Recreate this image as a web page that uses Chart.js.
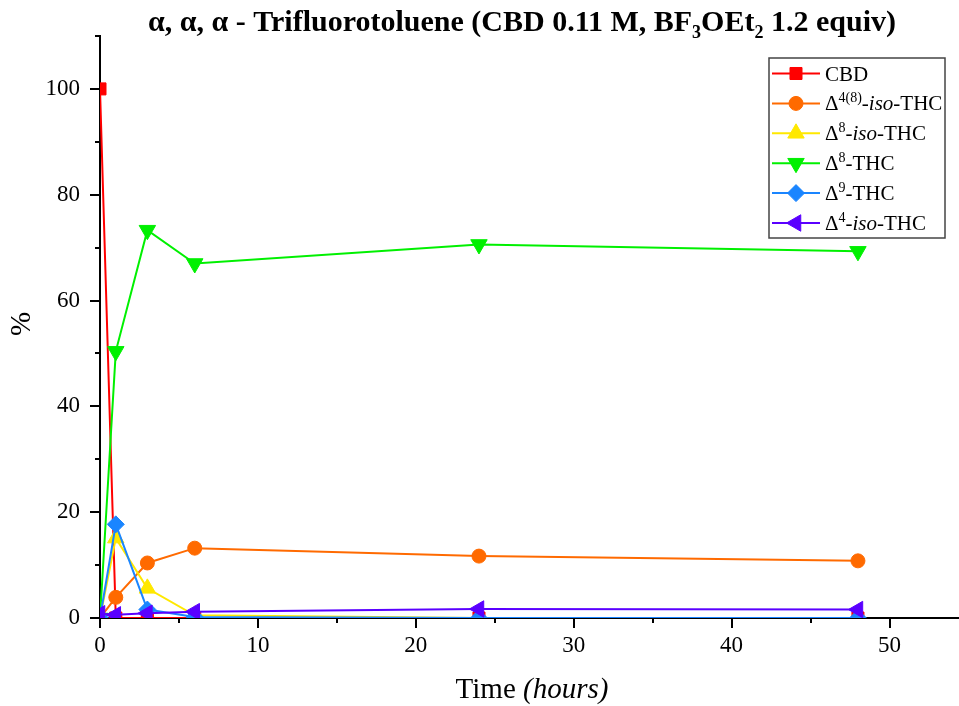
<!DOCTYPE html>
<html><head><meta charset="utf-8">
<script src="https://cdn.jsdelivr.net/npm/chart.js@4"></script>
<style>html,body{margin:0;padding:0;background:#fff;}#wrap{width:959px;height:706px;position:relative;}</style>
</head><body><div id="wrap"><canvas id="c" width="959" height="706"></canvas></div>
<script>
// ---- data ----
const times = [0, 1, 3, 6, 24, 48];
const cbd   = [100, 0, 0, 0, 0, 0];
const iso48 = [0, 3.9, 10.4, 13.2, 11.7, 10.8];
const iso8  = [0, 15.1, 5.6, 0.5, 0, 0];
const thc8  = [0, 50.4, 73.3, 67.0, 70.6, 69.3];
const thc9  = [0, 17.7, 1.6, 0.2, 0, 0];
const iso4  = [0.8, 0.6, 0.9, 1.2, 1.7, 1.6];
const xTickValues = [0, 10, 20, 30, 40, 50];
const yTickValues = [0, 20, 40, 60, 80, 100];
const seriesNames = ['CBD', 'Δ4(8)-iso-THC', 'Δ8-iso-THC', 'Δ8-THC', 'Δ9-THC', 'Δ4-iso-THC'];

const SERIF = "'Liberation Serif','Times New Roman',serif";
const styles = [
  {c:'#FF0000', shape:'rect',     r:8.5, rot:0},
  {c:'#FF6A00', shape:'circle',   r:7,   rot:0},
  {c:'#FFE800', shape:'triangle', r:9.5, rot:0},
  {c:'#00F000', shape:'triangle', r:9.5, rot:180},
  {c:'#1A85FF', shape:'rectRot',  r:8.5, rot:0},
  {c:'#5A00FF', shape:'triangle', r:9.5, rot:-90}
];
const allSeries = [cbd, iso48, iso8, thc8, thc9, iso4];

const datasets = allSeries.map((arr, i) => ({
  label: seriesNames[i],
  data: times.map((t, k) => ({x: t, y: arr[k]})),
  borderColor: styles[i].c,
  backgroundColor: styles[i].c,
  borderWidth: 2,
  pointStyle: styles[i].shape,
  pointRadius: styles[i].r,
  pointRotation: styles[i].rot,
  pointBorderWidth: 1,
  pointBorderColor: styles[i].c,
  pointBackgroundColor: styles[i].c,
  tension: 0,
  clip: 0,
  order: 5 - i
}));

function drawRuns(ctx, runs, x, y, align) {
  let total = 0;
  runs.forEach(r => { ctx.font = r.f; r.w = ctx.measureText(r.t).width; total += r.w; });
  let cx = align === 'center' ? x - total / 2 : x;
  ctx.textAlign = 'left';
  runs.forEach(r => { ctx.font = r.f; ctx.fillText(r.t, cx, y + (r.dy || 0)); cx += r.w; });
}

function drawMarker(ctx, s, x, y) {
  ctx.save();
  ctx.fillStyle = s.c; ctx.strokeStyle = s.c; ctx.lineWidth = 1;
  ctx.translate(x, y);
  ctx.rotate(s.rot * Math.PI / 180);
  ctx.beginPath();
  const r = s.r;
  if (s.shape === 'rect') { const h = r * Math.SQRT1_2; ctx.rect(-h, -h, 2*h, 2*h); }
  else if (s.shape === 'circle') { ctx.arc(0, 0, r, 0, Math.PI*2); }
  else if (s.shape === 'rectRot') { ctx.moveTo(0,-r); ctx.lineTo(r,0); ctx.lineTo(0,r); ctx.lineTo(-r,0); ctx.closePath(); }
  else {
    for (let k = 0; k < 3; k++) {
      const a = -Math.PI/2 + k * 2*Math.PI/3;
      const px = Math.cos(a)*r, py = Math.sin(a)*r;
      if (k === 0) ctx.moveTo(px, py); else ctx.lineTo(px, py);
    }
    ctx.closePath();
  }
  ctx.fill(); ctx.stroke();
  ctx.restore();
}

const decor = {
  id: 'decor',
  afterDraw(chart) {
    const ctx = chart.ctx;
    const xs = chart.scales.x, ys = chart.scales.y;
    const a = chart.chartArea;
    ctx.save();
    ctx.strokeStyle = '#000'; ctx.lineWidth = 2;
    for (let v = 0; v <= xs.max + 1e-9; v += 5) {
      const px = Math.round(xs.getPixelForValue(v));
      const len = (v % 10 === 0) ? 10 : 5;
      ctx.beginPath(); ctx.moveTo(px, a.bottom); ctx.lineTo(px, a.bottom + len); ctx.stroke();
    }
    for (let v = 0; v <= ys.max + 1e-9; v += 10) {
      const py = Math.round(ys.getPixelForValue(v));
      const len = (v % 20 === 0) ? 10 : 5;
      ctx.beginPath(); ctx.moveTo(a.left, py); ctx.lineTo(a.left - len, py); ctx.stroke();
    }
    ctx.fillStyle = '#000';
    ctx.textBaseline = 'alphabetic';
    const B = 'bold 30px ' + SERIF, Bs = 'bold 18px ' + SERIF;
    drawRuns(ctx, [
      {t:'α, α, α - Trifluorotoluene (CBD 0.11 M, BF', f:B},
      {t:'3', f:Bs, dy:7},
      {t:'OEt', f:B},
      {t:'2', f:Bs, dy:7},
      {t:' 1.2 equiv)', f:B}
    ], 522, 31, 'center');
    drawRuns(ctx, [
      {t:'Time ', f:'29px ' + SERIF},
      {t:'(hours)', f:'italic 29px ' + SERIF}
    ], 532, 698, 'center');
    ctx.save();
    ctx.translate(22, 324); ctx.rotate(-Math.PI/2);
    ctx.font = '29px ' + SERIF; ctx.textAlign = 'center'; ctx.textBaseline = 'middle';
    ctx.fillText('%', 0, 0);
    ctx.restore();
    ctx.strokeStyle = '#444'; ctx.lineWidth = 1.5;
    ctx.strokeRect(769, 58, 176, 180);
    const R = '21px ' + SERIF, I = 'italic 21px ' + SERIF, S = '14px ' + SERIF;
    const labels = [
      [{t:'CBD', f:R}],
      [{t:'Δ', f:R},{t:'4(8)', f:S, dy:-8},{t:'-', f:R},{t:'iso', f:I},{t:'-THC', f:R}],
      [{t:'Δ', f:R},{t:'8', f:S, dy:-8},{t:'-', f:R},{t:'iso', f:I},{t:'-THC', f:R}],
      [{t:'Δ', f:R},{t:'8', f:S, dy:-8},{t:'-THC', f:R}],
      [{t:'Δ', f:R},{t:'9', f:S, dy:-8},{t:'-THC', f:R}],
      [{t:'Δ', f:R},{t:'4', f:S, dy:-8},{t:'-', f:R},{t:'iso', f:I},{t:'-THC', f:R}]
    ];
    for (let i = 0; i < 6; i++) {
      const yy = 73.5 + i * 29.9;
      ctx.strokeStyle = styles[i].c; ctx.lineWidth = 2;
      ctx.beginPath(); ctx.moveTo(772, yy); ctx.lineTo(820, yy); ctx.stroke();
      drawMarker(ctx, styles[i], 796, yy);
      ctx.fillStyle = '#000';
      drawRuns(ctx, labels[i], 825, yy + 7, 'left');
    }
    ctx.restore();
  }
};

new Chart(document.getElementById('c'), {
  type: 'line',
  data: { datasets },
  plugins: [decor],
  options: {
    responsive: false,
    animation: false,
    devicePixelRatio: 1,
    layout: { autoPadding: false, padding: { top: 36, right: 0, left: 0, bottom: 0 } },
    plugins: { legend: { display: false }, title: { display: false }, tooltip: { enabled: false } },
    scales: {
      x: {
        type: 'linear', min: 0, max: 54.4,
        afterFit: s => { s.height = 88; s.paddingRight = 0; s.paddingLeft = 0; },
        grid: { display: false, drawTicks: false },
        border: { display: true, color: '#000', width: 2 },
        ticks: {
          stepSize: 10, includeBounds: false, autoSkip: false, maxRotation: 0, padding: 14,
          color: '#000', font: { family: SERIF, size: 23 },
          callback: v => xTickValues.includes(v) ? String(v) : ''
        }
      },
      y: {
        type: 'linear', min: 0, max: 110,
        afterFit: s => { s.width = 100; s.paddingTop = 0; s.paddingBottom = 0; },
        grid: { display: false, drawTicks: false },
        border: { display: true, color: '#000', width: 2 },
        ticks: {
          stepSize: 20, includeBounds: false, autoSkip: false, padding: 20,
          color: '#000', font: { family: SERIF, size: 23 },
          callback: v => yTickValues.includes(v) ? String(v) : ''
        }
      }
    }
  }
});
</script>
</body></html>
